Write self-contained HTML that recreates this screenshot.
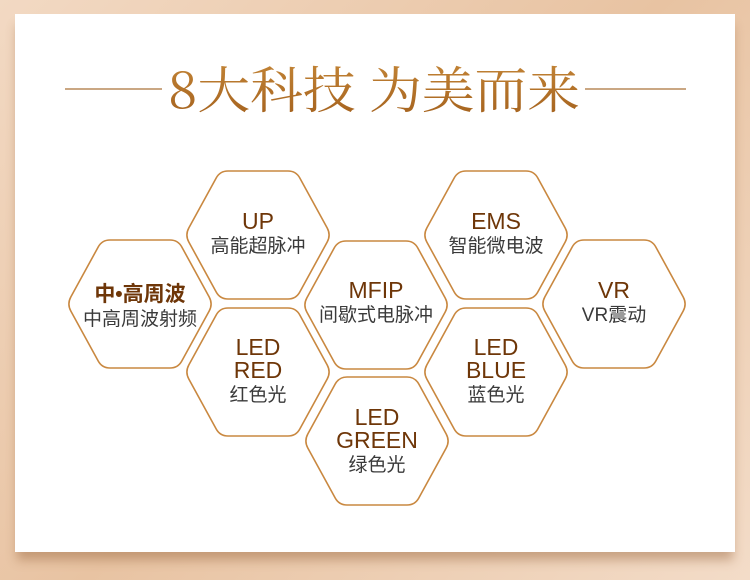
<!DOCTYPE html>
<html><head><meta charset="utf-8"><style>
html,body{margin:0;padding:0;}
body{width:750px;height:580px;position:relative;overflow:hidden;background:linear-gradient(135deg,#f2d9c3,#e8c3a2 50%,#f3dcc8);font-family:"Liberation Sans","Noto Sans CJK SC",sans-serif;}
.card{position:absolute;left:15px;top:14px;width:720px;height:538px;background:#fff;box-shadow:0 10px 10px -2px rgba(150,100,60,.45);}
.lbl{position:absolute;width:146px;text-align:center;}
.en{color:#6e3608;font-size:23px;line-height:23px;}
.zh{color:#3a3a3a;font-size:19px;line-height:27px;}
</style></head><body>
<div class="card"></div>
<svg width="750" height="580" style="position:absolute;left:0;top:0">
<defs><linearGradient id="g" x1="0" y1="0" x2="0" y2="1"><stop offset="0" stop-color="#c88a3a"/><stop offset="1" stop-color="#a25f1c"/></linearGradient>
<path id="h" d="M-69.2,-7 L-41.8,-57 Q-38,-64 -30,-64 L30,-64 Q38,-64 41.8,-57 L69.2,-7 Q73,0 69.2,7 L41.8,57 Q38,64 30,64 L-30,64 Q-38,64 -41.8,57 L-69.2,7 Q-73,0 -69.2,-7Z"/></defs>
<line x1="65" y1="89" x2="162" y2="89" stroke="#b88a5a" stroke-width="1.5"/>
<line x1="585" y1="89" x2="686" y2="89" stroke="#b88a5a" stroke-width="1.5"/>
<text x="168" y="108" textLength="412" lengthAdjust="spacingAndGlyphs" font-family="Noto Serif CJK SC, serif" font-size="50" fill="url(#g)">8大科技 为美而来</text>
<g fill="none" stroke="#c98840" stroke-width="1.6">
<use href="#h" transform="translate(140,304)"/>
<use href="#h" transform="translate(258,235)"/>
<use href="#h" transform="translate(258,372)"/>
<use href="#h" transform="translate(376,305)"/>
<use href="#h" transform="translate(377,441)"/>
<use href="#h" transform="translate(496,235)"/>
<use href="#h" transform="translate(496,372)"/>
<use href="#h" transform="translate(614,304)"/>
</g></svg>
<div class="lbl" style="left:67px;top:283px"><div class="en" style="font-weight:bold;font-size:21px">中•高周波</div><div class="zh">中高周波射频</div></div>
<div class="lbl" style="left:185px;top:210px"><div class="en">UP</div><div class="zh">高能超脉冲</div></div>
<div class="lbl" style="left:185px;top:336px"><div class="en">LED<br>RED</div><div class="zh">红色光</div></div>
<div class="lbl" style="left:303px;top:279px"><div class="en">MFIP</div><div class="zh">间歇式电脉冲</div></div>
<div class="lbl" style="left:304px;top:406px"><div class="en">LED<br>GREEN</div><div class="zh">绿色光</div></div>
<div class="lbl" style="left:423px;top:210px"><div class="en">EMS</div><div class="zh">智能微电波</div></div>
<div class="lbl" style="left:423px;top:336px"><div class="en">LED<br>BLUE</div><div class="zh">蓝色光</div></div>
<div class="lbl" style="left:541px;top:279px"><div class="en">VR</div><div class="zh">VR震动</div></div>
</body></html>
